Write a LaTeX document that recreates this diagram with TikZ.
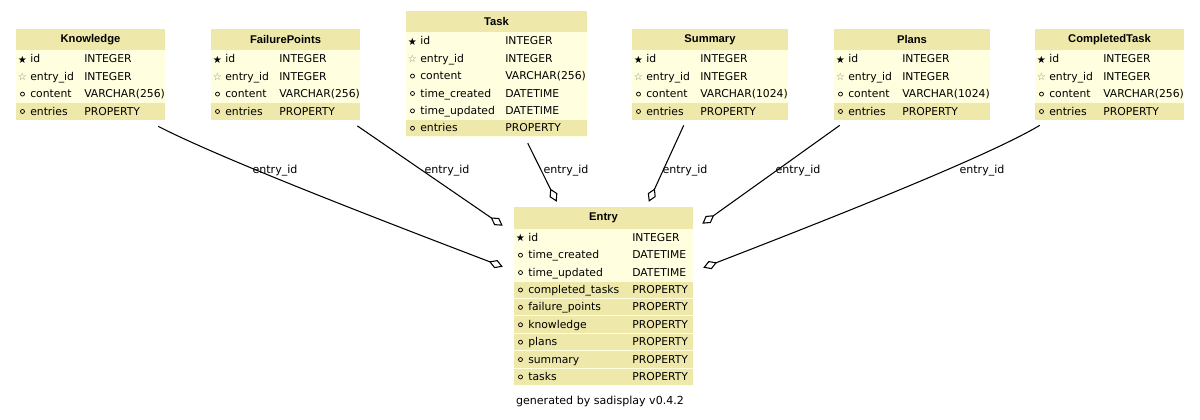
\documentclass[tikz,border=0pt]{standalone}
\usepackage{fontspec}
\setmainfont{DejaVu Sans}
\newfontfamily\titlefont{Liberation Sans}
\usetikzlibrary{arrows.meta,calc,fit}

\definecolor{headyellow}{HTML}{EEE8AA}
\definecolor{rowyellow}{HTML}{FFFFE0}

\newcommand{\pkmark}{★}
\newcommand{\fkmark}{\textcolor{gray}{☆}}
\newcommand{\colmark}{\tikz[baseline=0pt]\draw[line width=0.55pt] (0,2.4pt) circle (1.5pt);}

\tikzset{
	headrow/.style={fill=headyellow},
	colrow/.style={fill=rowyellow},
	proprow/.style={fill=headyellow},
	tabletitle/.style={inner sep=0pt, font=\titlefont\bfseries\fontsize{8.4}{10}\selectfont},
	celltext/.style={anchor=west, inner sep=0pt, font=\fontsize{8.1}{9}\selectfont, text height=6pt, text depth=1.5pt},
	keysymbol/.style={inner sep=0pt, font=\fontsize{7.6}{8}\selectfont},
	rel/.style={line width=0.8pt, -{Diamond[open, length=11pt, width=6.5pt, line width=0.8pt]}},
	rellabel/.style={inner sep=0pt, font=\fontsize{8.3}{9}\selectfont}
}

% #1 name, #2 left, #3 top, #4 width, #5 type column, #6 title, #7 rows
\newcommand{\dbtable}[7]{
	\fill[headrow] (#2,#3) rectangle ++(#4,21.5);
	\node[tabletitle] (#1-title) at (#2+#4/2,#3+10.75) {#6};
	\foreach \mk/\cname/\ctype/\kind [count=\i] in {#7}{
		\pgfmathsetmacro{\rtop}{#3+21.5+(\i-1)*17.4}
		\fill[colrow] (#2,\rtop) rectangle ++(#4,17.4);
		\fill[\kind] (#2,\rtop+0.5) rectangle ++(#4,16.4);
		\node[keysymbol] at (#2+6.5,\rtop+9.2) {\mk};
		\node[celltext] at (#2+14,\rtop+9.4) {\cname};
		\node[celltext] at (#2+#5,\rtop+9.4) {\ctype};
		\xdef\nrows{\i}
	}
	\coordinate (#1-nw) at (#2,#3);
	\coordinate (#1-se) at (#2+#4,#3+21.5+\nrows*17.4);
	\node[fit=(#1-nw)(#1-se), inner sep=0pt] (#1) {};
}

\begin{document}
\begin{tikzpicture}[x=0.75pt, y=-0.75pt]
	\fill[white] (0,0) rectangle (1200,420);
	\useasboundingbox (0,0) rectangle (1200,420);

	\dbtable{knowledge}{16}{29}{149}{68}{Knowledge}{\pkmark/id/INTEGER/colrow, \fkmark/entry\_id/INTEGER/colrow, \colmark/content/VARCHAR(256)/colrow, \colmark/entries/PROPERTY/proprow}
	\dbtable{failure}{211}{29}{149}{68}{FailurePoints}{\pkmark/id/INTEGER/colrow, \fkmark/entry\_id/INTEGER/colrow, \colmark/content/VARCHAR(256)/colrow, \colmark/entries/PROPERTY/proprow}
	\dbtable{task}{406}{11}{181}{99}{Task}{\pkmark/id/INTEGER/colrow, \fkmark/entry\_id/INTEGER/colrow, \colmark/content/VARCHAR(256)/colrow, \colmark/time\_created/DATETIME/colrow, \colmark/time\_updated/DATETIME/colrow, \colmark/entries/PROPERTY/proprow}
	\dbtable{summary}{632}{29}{156}{68}{Summary}{\pkmark/id/INTEGER/colrow, \fkmark/entry\_id/INTEGER/colrow, \colmark/content/VARCHAR(1024)/colrow, \colmark/entries/PROPERTY/proprow}
	\dbtable{plans}{834}{29}{156}{68}{Plans}{\pkmark/id/INTEGER/colrow, \fkmark/entry\_id/INTEGER/colrow, \colmark/content/VARCHAR(1024)/colrow, \colmark/entries/PROPERTY/proprow}
	\dbtable{completed}{1035}{29}{149}{68}{CompletedTask}{\pkmark/id/INTEGER/colrow, \fkmark/entry\_id/INTEGER/colrow, \colmark/content/VARCHAR(256)/colrow, \colmark/entries/PROPERTY/proprow}
	\dbtable{entry}{514}{207.5}{179}{118}{Entry}{\pkmark/id/INTEGER/colrow, \colmark/time\_created/DATETIME/colrow, \colmark/time\_updated/DATETIME/colrow, \colmark/completed\_tasks/PROPERTY/proprow, \colmark/failure\_points/PROPERTY/proprow, \colmark/knowledge/PROPERTY/proprow, \colmark/plans/PROPERTY/proprow, \colmark/summary/PROPERTY/proprow, \colmark/tasks/PROPERTY/proprow}

	\draw[rel] ($(knowledge.south east)+(-7,6)$) .. controls +(62,32) and +(-123,-47) .. ($(entry.north west)+(-11,59.5)$);
	\draw[rel] ($(failure.south east)+(-3,5.5)$) -- ($(entry.north west)+(-11,18.5)$);
	\draw[rel] ($(task.south west)+(122,6)$) -- ($(entry.north west)+(43,-5.5)$);
	\draw[rel] ($(summary.south west)+(52,5)$) -- ($(entry.north west)+(135,-5.5)$);
	\draw[rel] ($(plans.south west)+(6,5)$) -- ($(entry.north east)+(9,16.5)$);
	\draw[rel] ($(completed.south west)+(5,5)$) .. controls +(-50,30) and +(137,-53) .. ($(entry.north east)+(10,60.5)$);

	\node[rellabel] (knowledge-rel) at (275,171) {entry\_id};
	\node[rellabel] (failure-rel) at (447,171) {entry\_id};
	\node[rellabel] (task-rel) at (566,171) {entry\_id};
	\node[rellabel] (summary-rel) at (685,171) {entry\_id};
	\node[rellabel] (plans-rel) at (798,171) {entry\_id};
	\node[rellabel] (completed-rel) at (982,171) {entry\_id};

	\node[rellabel] (footer) at (600,401) {generated by sadisplay v0.4.2};
\end{tikzpicture}
\end{document}
